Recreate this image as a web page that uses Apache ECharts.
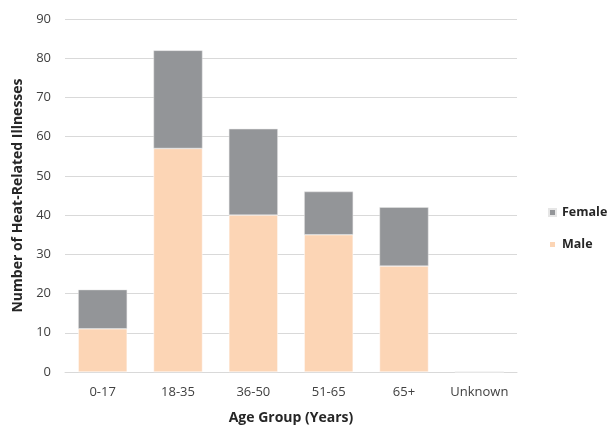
<!DOCTYPE html>
<html><head><meta charset="utf-8">
<script src="https://cdn.jsdelivr.net/npm/echarts@6/dist/echarts.min.js"></script>
<style>html,body{margin:0;padding:0;background:#fff}#c{width:607px;height:430px}</style>
</head><body><div id="c"></div>
<script>
const categories = ['0-17','18-35','36-50','51-65','65+','Unknown'];
const male = [11,57,40,35,27,0];
const female = [10,25,22,11,15,0];
const yTicks = {min:0,max:90,interval:10};
const font = 'Open Sans, Liberation Sans, sans-serif';
const chart = echarts.init(document.getElementById('c'), null, {renderer:'canvas'});
chart.setOption({
  animation:false,
  grid:{left:65,right:90,top:19,bottom:55,containLabel:false},
  legend:{orient:'vertical',left:543,top:201,itemWidth:7,itemHeight:7,itemGap:19,icon:'rect',
    data:['Female','Male'],
    textStyle:{fontFamily:font,fontSize:12.5,fontWeight:'bold',color:'#262626',padding:[0,0,0,1]}},
  xAxis:{type:'category',data:categories,
    axisLine:{lineStyle:{color:'#d9d9d9'}},axisTick:{show:false},
    axisLabel:{fontFamily:font,fontSize:13,color:'#404040',margin:14,interval:0},
    name:'Age Group (Years)',nameLocation:'middle',nameGap:39,
    nameTextStyle:{fontFamily:font,fontSize:14,fontWeight:'bold',color:'#262626'}},
  yAxis:{type:'value',min:yTicks.min,max:yTicks.max,interval:yTicks.interval,
    axisLine:{show:false},axisTick:{show:false},
    splitLine:{lineStyle:{color:'#d9d9d9'}},
    axisLabel:{fontFamily:font,fontSize:13,color:'#404040',margin:14},
    name:'Number of Heat-Related Illnesses',nameLocation:'middle',nameGap:40,
    nameTextStyle:{fontFamily:font,fontSize:14,fontWeight:'bold',color:'#262626'}},
  series:[
    {name:'Male',type:'bar',stack:'a',data:male,barWidth:'65%',
      itemStyle:{color:'#fcd5b5',borderColor:'#fff',borderWidth:0.5}},
    {name:'Female',type:'bar',stack:'a',data:female,barWidth:'65%',
      itemStyle:{color:'#939598',borderColor:'#e6e6e6',borderWidth:0.5}}
  ]
});
</script></body></html>
